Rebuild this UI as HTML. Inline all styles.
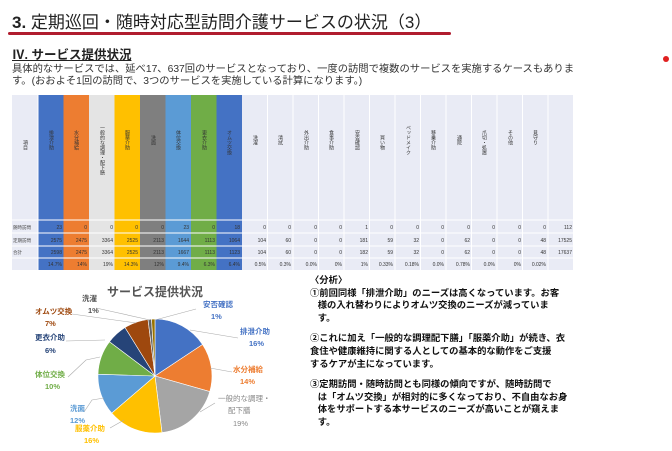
<!DOCTYPE html>
<html><head><meta charset="utf-8"><style>
body{margin:0;width:672px;height:451px;background:#fff;overflow:hidden;position:relative;font-family:"Liberation Sans","Noto Sans CJK JP",sans-serif}
.a{position:absolute;white-space:nowrap}
</style></head><body>
<div class="a" style="left:12px;top:8px;font-size:17px;color:#222"><b style="font-size:17px">3.</b> 定期巡回・随時対応型訪問介護サービスの状況（3）</div>
<div class="a" style="left:8px;top:32px;width:443px;height:3px;background:#b01c2e;border-radius:2px"></div>
<div class="a" style="left:663px;top:56px;width:6px;height:6px;background:#e02020;border-radius:50%"></div>
<div class="a" style="left:12px;top:44px;font-size:12.5px;font-weight:bold;text-decoration:underline;color:#222">Ⅳ. サービス提供状況</div>
<div class="a" style="left:12px;top:64px;font-size:10.3px;color:#333;line-height:12px">具体的なサービスでは、延べ17、637回のサービスとなっており、一度の訪問で複数のサービスを実施するケースもありま<br>す。(おおよそ1回の訪問で、3つのサービスを実施している計算になります。)</div>

<svg class="a" style="left:0;top:0" width="672" height="451" font-family="Liberation Sans, Noto Sans CJK JP, sans-serif">
<rect x="12" y="95" width="561" height="175" fill="#e9ebf5"/>
<g id="cols">
<rect x="38" y="95" width="25.5" height="175" fill="#4472c4"/>
<rect x="63.5" y="95" width="25.5" height="175" fill="#ed7d31"/>
<rect x="89" y="95" width="25.5" height="175" fill="#e4e4e4"/>
<rect x="114.5" y="95" width="25.5" height="175" fill="#ffc000"/>
<rect x="140" y="95" width="25.5" height="175" fill="#7f7f7f"/>
<rect x="165.5" y="95" width="25.5" height="175" fill="#5b9bd5"/>
<rect x="191" y="95" width="25.5" height="175" fill="#70ad47"/>
<rect x="216.5" y="95" width="25.5" height="175" fill="#4472c4"/>
</g>
<g stroke="#fff" stroke-width="1">
<line x1="38" y1="95" x2="38" y2="270"/><line x1="267.5" y1="95" x2="267.5" y2="270"/><line x1="293" y1="95" x2="293" y2="270"/><line x1="318.5" y1="95" x2="318.5" y2="270"/><line x1="344" y1="95" x2="344" y2="270"/><line x1="369.5" y1="95" x2="369.5" y2="270"/><line x1="395" y1="95" x2="395" y2="270"/><line x1="420.5" y1="95" x2="420.5" y2="270"/><line x1="446" y1="95" x2="446" y2="270"/><line x1="471.5" y1="95" x2="471.5" y2="270"/><line x1="497" y1="95" x2="497" y2="270"/><line x1="522.5" y1="95" x2="522.5" y2="270"/><line x1="548" y1="95" x2="548" y2="270"/>
<line x1="12" y1="220" x2="573" y2="220"/><line x1="12" y1="233" x2="573" y2="233"/><line x1="12" y1="246" x2="573" y2="246"/><line x1="12" y1="258" x2="573" y2="258"/>
</g>
<g font-size="5" fill="#333" style="writing-mode:tb">
<text x="25" y="140">項目</text>
<text x="51" y="130">排泄介助</text><text x="76" y="130">水分補給</text><text x="102" y="125">一般的な調理・配下膳</text><text x="127" y="130">服薬介助</text><text x="153" y="135">洗面</text><text x="178" y="130">体位交換</text><text x="204" y="130">更衣介助</text><text x="229" y="130">オムツ交換</text>
<text x="255" y="135">洗濯</text><text x="280" y="135">清拭</text><text x="306" y="130">外出介助</text><text x="331" y="130">食事介助</text><text x="357" y="130">安否確認</text><text x="382" y="135">買い物</text><text x="408" y="125">ベッドメイク</text><text x="433" y="130">移乗介助</text><text x="459" y="135">通院</text><text x="484" y="130">爪切・処置</text><text x="510" y="130">その他</text><text x="535" y="130">見守り</text>
</g>
<g font-size="4.5" fill="#444"><text x="13" y="229">随時訪問</text><text x="13" y="242">定期訪問</text><text x="13" y="254">合計</text></g>
<g font-size="5" fill="#333" text-anchor="end">
<text y="229"><tspan x="62">23</tspan><tspan x="87">0</tspan><tspan x="113">0</tspan><tspan x="138">0</tspan><tspan x="164">0</tspan><tspan x="189">23</tspan><tspan x="215">0</tspan><tspan x="240">18</tspan><tspan x="266">0</tspan><tspan x="291">0</tspan><tspan x="317">0</tspan><tspan x="342">0</tspan><tspan x="368">1</tspan><tspan x="393">0</tspan><tspan x="419">0</tspan><tspan x="444">0</tspan><tspan x="470">0</tspan><tspan x="495">0</tspan><tspan x="521">0</tspan><tspan x="546">0</tspan><tspan x="572">112</tspan></text>
<text y="242"><tspan x="62">2575</tspan><tspan x="87">2475</tspan><tspan x="113">3364</tspan><tspan x="138">2525</tspan><tspan x="164">2113</tspan><tspan x="189">1644</tspan><tspan x="215">1113</tspan><tspan x="240">1064</tspan><tspan x="266">104</tspan><tspan x="291">60</tspan><tspan x="317">0</tspan><tspan x="342">0</tspan><tspan x="368">181</tspan><tspan x="393">59</tspan><tspan x="419">32</tspan><tspan x="444">0</tspan><tspan x="470">62</tspan><tspan x="495">0</tspan><tspan x="521">0</tspan><tspan x="546">48</tspan><tspan x="572">17525</tspan></text>
<text y="254"><tspan x="62">2598</tspan><tspan x="87">2475</tspan><tspan x="113">3364</tspan><tspan x="138">2525</tspan><tspan x="164">2113</tspan><tspan x="189">1667</tspan><tspan x="215">1113</tspan><tspan x="240">1123</tspan><tspan x="266">104</tspan><tspan x="291">60</tspan><tspan x="317">0</tspan><tspan x="342">0</tspan><tspan x="368">182</tspan><tspan x="393">59</tspan><tspan x="419">32</tspan><tspan x="444">0</tspan><tspan x="470">62</tspan><tspan x="495">0</tspan><tspan x="521">0</tspan><tspan x="546">48</tspan><tspan x="572">17637</tspan></text>
<text y="266"><tspan x="62">14.7%</tspan><tspan x="87">14%</tspan><tspan x="113">19%</tspan><tspan x="138">14.3%</tspan><tspan x="164">12%</tspan><tspan x="189">9.4%</tspan><tspan x="215">6.3%</tspan><tspan x="240">6.4%</tspan><tspan x="266">0.5%</tspan><tspan x="291">0.3%</tspan><tspan x="317">0.0%</tspan><tspan x="342">0%</tspan><tspan x="368">1%</tspan><tspan x="393">0.33%</tspan><tspan x="419">0.18%</tspan><tspan x="444">0.0%</tspan><tspan x="470">0.78%</tspan><tspan x="495">0.0%</tspan><tspan x="521">0%</tspan><tspan x="546">0.02%</tspan></text>
</g>

<text x="155" y="296" font-size="12" font-weight="bold" fill="#555" text-anchor="middle">サービス提供状況</text>
<g stroke="#fff" stroke-width="0.6">
<path d="M155,376 L155,319 A57,57 0 0 1 202.5,344.5Z" fill="#4472c4"/>
<path d="M155,376 L202.5,344.5 A57,57 0 0 1 209.8,391.6Z" fill="#ed7d31"/>
<path d="M155,376 L209.8,391.6 A57,57 0 0 1 162,432.6Z" fill="#a5a5a5"/>
<path d="M155,376 L162,432.6 A57,57 0 0 1 111.7,413.1Z" fill="#ffc000"/>
<path d="M155,376 L111.7,413.1 A57,57 0 0 1 98,374.2Z" fill="#5b9bd5"/>
<path d="M155,376 L98,374.2 A57,57 0 0 1 109.5,341.7Z" fill="#70ad47"/>
<path d="M155,376 L109.5,341.7 A57,57 0 0 1 125,327.5Z" fill="#264478"/>
<path d="M155,376 L125,327.5 A57,57 0 0 1 148,319.4Z" fill="#9e480e"/>
<path d="M155,376 L148,319.4 A57,57 0 0 1 151.5,319.1Z" fill="#636363"/>
<path d="M155,376 L151.5,319.1 A57,57 0 0 1 155,319Z" fill="#997300"/>
</g>
<g stroke="#aaa" stroke-width="0.6" fill="none">
<polyline points="155,320 196,309"/><polyline points="190,330 238,338"/><polyline points="210,368 232,372"/><polyline points="200,412 215,403"/><polyline points="110,428 124,420"/><polyline points="84,412 92,400 104,398"/><polyline points="68,377 86,360 100,357"/><polyline points="66,341 105,340"/><polyline points="72,314 136,323"/><polyline points="96,308 150,320"/>
</g>
<g font-size="7.5" font-weight="bold">
<text x="203" y="307" fill="#4472c4">安否確認</text><text x="211" y="319" fill="#4472c4">1%</text>
<text x="240" y="334" fill="#4472c4">排泄介助</text><text x="249" y="346" fill="#4472c4">16%</text>
<text x="233" y="372" fill="#ed7d31">水分補給</text><text x="240" y="384" fill="#ed7d31">14%</text>
<text x="218" y="401" fill="#888" font-weight="normal">一般的な調理・</text><text x="228" y="413" fill="#888" font-weight="normal">配下膳</text><text x="233" y="426" fill="#888" font-weight="normal">19%</text>
<text x="75" y="431" fill="#ffc000">服薬介助</text><text x="84" y="443" fill="#ffc000">16%</text>
<text x="70" y="411" fill="#5b9bd5">洗面</text><text x="70" y="423" fill="#5b9bd5">12%</text>
<text x="35" y="377" fill="#70ad47">体位交換</text><text x="45" y="389" fill="#70ad47">10%</text>
<text x="35" y="340" fill="#264478">更衣介助</text><text x="45" y="353" fill="#264478">6%</text>
<text x="35" y="314" fill="#9e480e">オムツ交換</text><text x="45" y="326" fill="#9e480e">7%</text>
<text x="82" y="301" fill="#555">洗濯</text><text x="88" y="313" fill="#555">1%</text>
</g>
</svg>

<div class="a" style="left:310px;top:274px;font-size:9.3px;line-height:12.6px;color:#111;font-weight:bold">
〈分析〉<br>
①前回同様「排泄介助」のニーズは高くなっています。お客<br>&nbsp;&nbsp;&nbsp;様の入れ替わりによりオムツ交換のニーズが減っていま<br>&nbsp;&nbsp;&nbsp;す。<br>
<div style="height:8px"></div>
②これに加え「一般的な調理配下膳」「服薬介助」が続き、衣<br>食住や健康維持に関する人としての基本的な動作をご支援<br>するケアが主になっています。<br>
<div style="height:8px"></div>
③定期訪問・随時訪問とも同様の傾向ですが、随時訪問で<br>&nbsp;&nbsp;&nbsp;は「オムツ交換」が相対的に多くなっており、不自由なお身<br>&nbsp;&nbsp;&nbsp;体をサポートする本サービスのニーズが高いことが窺えま<br>&nbsp;&nbsp;&nbsp;す。
</div>
</body></html>
